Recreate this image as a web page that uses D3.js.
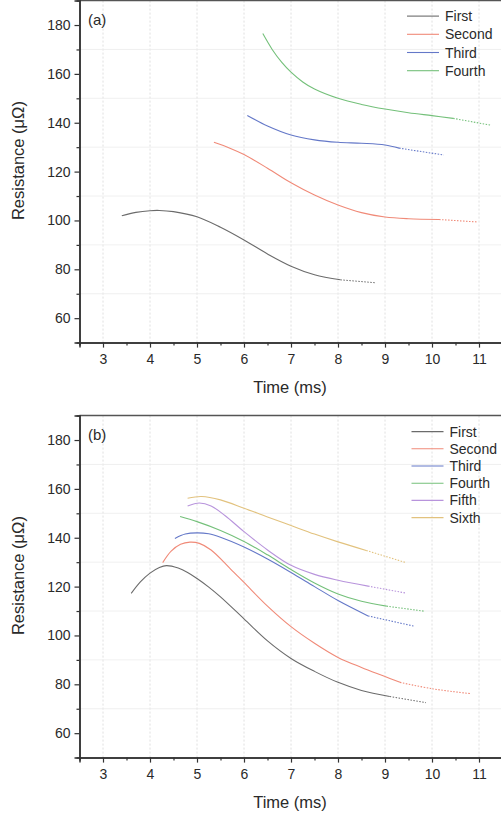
<!DOCTYPE html>
<html>
<head>
<meta charset="utf-8">
<script src="https://cdn.jsdelivr.net/npm/d3@7"></script>
<style>
  body { margin: 0; background: #fff; }
  svg { display: block; font-family: "Liberation Sans", Arial, sans-serif; }
</style>
</head>
<body>
<div id="chart"></div>
<script>
// series names and colours
const namesA = ["First", "Second", "Third", "Fourth"];
const namesB = ["First", "Second", "Third", "Fourth", "Fifth", "Sixth"];
const colors = ["#6b6b6b", "#f08a78", "#6478c8", "#74c07a", "#b894dc", "#e2c27e"];

// ticks
const xTicks = [3, 4, 5, 6, 7, 8, 9, 10, 11];
const yTicks = [60, 80, 100, 120, 140, 160, 180];

// panel (a): [time ms, resistance µΩ] solid part and dotted tail
const aFirst = [[3.4, 101.9], [3.7, 103.3], [4.0, 104.0], [4.2, 104.1], [4.5, 103.6], [5.0, 101.5], [5.5, 97.2], [6.0, 92.0], [6.5, 86.3], [7.0, 81.3], [7.5, 77.8], [8.05, 75.7]];
const aFirstTail = [[8.05, 75.7], [8.8, 74.5]];
const aSecond = [[5.36, 132.0], [5.7, 129.6], [6.0, 127.0], [6.5, 121.4], [7.0, 115.4], [7.5, 110.4], [8.0, 106.3], [8.5, 103.2], [9.0, 101.4], [9.5, 100.7], [10.15, 100.4]];
const aSecondTail = [[10.15, 100.4], [10.95, 99.4]];
const aThird = [[6.07, 143.0], [6.5, 138.7], [7.0, 135.0], [7.5, 133.0], [8.0, 132.0], [8.5, 131.6], [9.0, 130.9], [9.3, 129.6]];
const aThirdTail = [[9.3, 129.6], [10.25, 126.8]];
const aFourth = [[6.4, 176.5], [6.6, 170.0], [6.8, 164.8], [7.0, 160.7], [7.25, 156.7], [7.5, 153.8], [8.0, 150.0], [8.5, 147.5], [9.0, 145.6], [9.5, 144.1], [10.0, 142.9], [10.45, 141.8]];
const aFourthTail = [[10.45, 141.8], [11.25, 139.0]];

// panel (b)
const bFirst = [[3.6, 117.2], [3.8, 122.0], [4.0, 125.5], [4.2, 127.8], [4.35, 128.6], [4.6, 127.6], [4.8, 125.8], [5.0, 123.3], [5.25, 119.8], [5.5, 115.8], [6.0, 106.8], [6.5, 97.8], [7.0, 90.6], [7.5, 85.3], [8.0, 80.8], [8.5, 77.5], [9.1, 75.0]];
const bFirstTail = [[9.1, 75.0], [9.87, 72.5]];
const bSecond = [[4.27, 129.8], [4.45, 134.5], [4.65, 137.3], [4.85, 138.2], [5.05, 137.7], [5.3, 135.0], [5.7, 127.5], [6.0, 121.7], [6.5, 112.0], [7.0, 103.6], [7.5, 96.8], [8.0, 91.0], [8.5, 86.9], [9.0, 83.2], [9.32, 80.8]];
const bSecondTail = [[9.32, 80.8], [10.0, 78.2], [10.81, 76.2]];
const bThird = [[4.53, 139.7], [4.75, 141.5], [5.0, 142.0], [5.25, 141.6], [5.5, 140.2], [6.0, 136.2], [6.5, 131.3], [7.0, 125.8], [7.5, 120.0], [8.0, 114.3], [8.64, 108.0]];
const bThirdTail = [[8.64, 108.0], [9.62, 103.8]];
const bFourth = [[4.64, 148.7], [5.0, 146.6], [5.5, 143.0], [6.0, 138.5], [6.5, 133.0], [7.0, 127.0], [7.5, 121.5], [8.0, 117.0], [8.5, 114.0], [9.03, 112.0]];
const bFourthTail = [[9.03, 112.0], [9.85, 109.9]];
const bFifth = [[4.8, 153.0], [5.05, 154.2], [5.3, 153.0], [5.6, 149.0], [6.0, 142.5], [6.5, 135.0], [7.0, 128.7], [7.5, 125.0], [8.0, 122.6], [8.64, 120.2]];
const bFifthTail = [[8.64, 120.2], [9.43, 117.4]];
const bSixth = [[4.8, 156.2], [5.1, 156.9], [5.5, 155.5], [6.0, 152.1], [6.5, 148.5], [7.0, 145.0], [7.5, 141.5], [8.0, 138.3], [8.6, 134.8]];
const bSixthTail = [[8.6, 134.8], [9.43, 129.9]];

const width = 501, height = 815;
const svg = d3.select("#chart").append("svg")
  .attr("width", width)
  .attr("height", height);

function drawPanel(top, label, lines, tails, names, legendY, legendX, legendStep) {
  const x = d3.scaleLinear().domain([2.5, 11.5]).range([79.5, 502.5]);
  const y = d3.scaleLinear().domain([50, 190]).range([top + 342, top]);
  const g = svg.append("g");

  // grid: dashed verticals at major x, faint horizontals between y ticks
  g.selectAll(".vg").data(xTicks).join("line")
    .attr("x1", d => x(d)).attr("x2", d => x(d))
    .attr("y1", y(190)).attr("y2", y(50))
    .attr("stroke", "#d8d8d8").attr("stroke-dasharray", "2,2").attr("stroke-width", 0.8);
  g.selectAll(".hg").data([70, 90, 110, 130, 150, 170]).join("line")
    .attr("x1", x(2.5)).attr("x2", x(11.5))
    .attr("y1", d => y(d)).attr("y2", d => y(d))
    .attr("stroke", "#ececec").attr("stroke-width", 0.8);

  // frame
  g.append("line").attr("x1", x(2.5)).attr("x2", x(11.5)).attr("y1", y(190)).attr("y2", y(190))
    .attr("stroke", "#555").attr("stroke-width", 1.5);

  // axes
  g.append("g").attr("transform", `translate(0,${y(50)})`)
    .call(d3.axisBottom(x).tickValues(xTicks).tickFormat(d3.format("d")).tickSize(5).tickPadding(6));
  g.append("g").attr("transform", `translate(0,${y(50)})`)
    .call(d3.axisBottom(x).tickValues(d3.range(2.5, 11.6, 1)).tickFormat("").tickSize(3));
  g.append("g").attr("transform", `translate(${x(2.5)},0)`)
    .call(d3.axisLeft(y).tickValues(yTicks).tickSize(5).tickPadding(4));
  g.append("g").attr("transform", `translate(${x(2.5)},0)`)
    .call(d3.axisLeft(y).tickValues([70, 90, 110, 130, 150, 170]).tickFormat("").tickSize(3));
  g.selectAll(".domain").attr("stroke", "#333").attr("stroke-width", 1.5);
  g.selectAll(".tick line").attr("stroke", "#333").attr("stroke-width", 1.2);
  g.selectAll(".tick text").attr("fill", "#2a2a2a").style("font-size", "14px");

  // axis titles
  g.append("text")
    .attr("x", 290).attr("y", top + 392)
    .attr("text-anchor", "middle")
    .style("font-size", "16.5px").attr("fill", "#2a2a2a")
    .text("Time (ms)");
  g.append("text")
    .attr("transform", `translate(24,${top + 160}) rotate(-90)`)
    .attr("text-anchor", "middle")
    .style("font-size", "16.5px").attr("fill", "#2a2a2a")
    .text("Resistance (\u03bc\u03a9)");
  g.append("text")
    .attr("x", 88).attr("y", top + 24)
    .style("font-size", "15px").attr("fill", "#2a2a2a")
    .text(label);

  const line = d3.line().x(d => x(d[0])).y(d => y(d[1])).curve(d3.curveCatmullRom.alpha(0.5));

  lines.forEach((pts, i) => {
    g.append("path").datum(pts)
      .attr("d", line)
      .attr("fill", "none").attr("stroke", colors[i]).attr("stroke-width", 1.1);
  });
  tails.forEach((pts, i) => {
    g.append("path").datum(pts)
      .attr("d", line)
      .attr("fill", "none").attr("stroke", colors[i]).attr("stroke-width", 1.1)
      .attr("stroke-dasharray", "1.5,1.5");
  });

  // legend
  names.forEach((n, i) => {
    const ly = top + legendY + i * legendStep;
    g.append("line")
      .attr("x1", legendX).attr("x2", legendX + 32)
      .attr("y1", ly).attr("y2", ly)
      .attr("stroke", colors[i]).attr("stroke-width", 1.1);
    g.append("text")
      .attr("x", legendX + 38).attr("y", ly + 5)
      .style("font-size", "14px").attr("fill", "#2a2a2a")
      .text(n);
  });
}

drawPanel(0.6, "(a)",
  [aFirst, aSecond, aThird, aFourth],
  [aFirstTail, aSecondTail, aThirdTail, aFourthTail],
  namesA, 15.5, 407, 18.2);

drawPanel(415.6, "(b)",
  [bFirst, bSecond, bThird, bFourth, bFifth, bSixth],
  [bFirstTail, bSecondTail, bThirdTail, bFourthTail, bFifthTail, bSixthTail],
  namesB, 16, 411.5, 17.2);
</script>
</body>
</html>
